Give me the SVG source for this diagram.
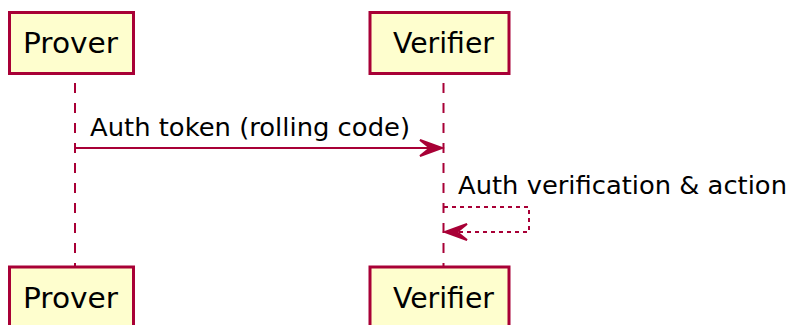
<svg xmlns="http://www.w3.org/2000/svg" width="788" height="325" viewBox="0 0 788 325">
<defs>
<style>
.box{fill:#FEFECE;stroke:#A80036;stroke-width:3}
.pt{font-family:"DejaVu Sans",sans-serif;font-size:28.5px;fill:#000}
.mt{font-family:"DejaVu Sans",sans-serif;font-size:25.5px;fill:#000}
.life{stroke:#A80036;stroke-width:2;stroke-dasharray:10,10;fill:none}
.msg{stroke:#A80036;stroke-width:2;fill:none}
.dash{stroke-dasharray:4,4}
.head{fill:#A80036;stroke:#A80036;stroke-width:2}
</style>
</defs>
<rect width="788" height="325" fill="#FFFFFF"/>
<g id="lifelines">
<line class="life" x1="75" y1="83" x2="75" y2="267"/>
<line class="life" x1="443.5" y1="83" x2="443.5" y2="267"/>
</g>
<g id="prover-top">
<rect class="box" x="9.5" y="12.5" width="124" height="61"/>
<text class="pt" x="23" y="53" textLength="95" lengthAdjust="spacingAndGlyphs">Prover</text>
</g>
<g id="verifier-top">
<rect class="box" x="370" y="12.5" width="139" height="61"/>
<text class="pt" x="393" y="53" textLength="101" lengthAdjust="spacingAndGlyphs">Verifier</text>
</g>
<g id="prover-bottom">
<rect class="box" x="9.5" y="267" width="124" height="61"/>
<text class="pt" x="23" y="308" textLength="95" lengthAdjust="spacingAndGlyphs">Prover</text>
</g>
<g id="verifier-bottom">
<rect class="box" x="370" y="267" width="139" height="61"/>
<text class="pt" x="393" y="308" textLength="101" lengthAdjust="spacingAndGlyphs">Verifier</text>
</g>
<g id="connectors">
<line class="msg" x1="75" y1="148" x2="440" y2="148"/>
<polygon class="head" points="442,148 420,140 430,148 420,156"/>
<text class="mt" x="90" y="136" textLength="320" lengthAdjust="spacingAndGlyphs">Auth token (rolling code)</text>
<polyline class="msg dash" points="444,207 529,207 529,232 447,232"/>
<polygon class="head" points="445,232 467,224 457,232 467,240"/>
<text class="mt" x="458" y="194" textLength="329" lengthAdjust="spacingAndGlyphs">Auth verification &amp; action</text>
</g>
</svg>
